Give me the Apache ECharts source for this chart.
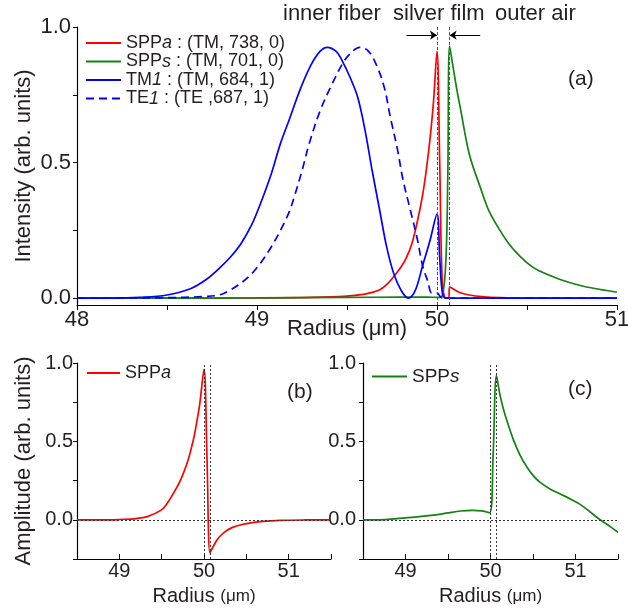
<!DOCTYPE html>
<html>
<head>
<meta charset="utf-8">
<title>SPP modes</title>
<script src="https://cdn.jsdelivr.net/npm/echarts@6.0.0/dist/echarts.min.js"></script>
<style>
  html, body { margin: 0; padding: 0; background: #fff; }
  #main { width: 628px; height: 610px; }
</style>
</head>
<body>
<div id="main"></div>
<script>
//(a) 强度, 半径 um
var sppaR = [48.0, 48.5, 49.0, 49.3, 49.5, 49.6, 49.68, 49.72, 49.76, 49.8, 49.83, 49.86, 49.89, 49.92, 49.94, 49.96, 49.98, 50.0, 50.015, 50.03, 50.05, 50.065, 50.07, 50.1, 50.13, 50.18, 50.25, 50.35, 50.5, 51.0];
var sppaI = [0, 0, 0.001, 0.003, 0.008, 0.015, 0.03, 0.05, 0.08, 0.115, 0.15, 0.2, 0.28, 0.38, 0.47, 0.58, 0.72, 0.91, 0.5, 0.05, 0, 0, 0.042, 0.03, 0.02, 0.012, 0.006, 0.002, 0, 0];

var sppsR = [48.0, 49.0, 49.5, 49.8, 49.95, 50.0, 50.03, 50.05, 50.06, 50.07, 50.09, 50.11, 50.13, 50.18, 50.24, 50.29, 50.35, 50.4, 50.46, 50.52, 50.57, 50.68, 50.79, 50.9, 51.0];
var sppsI = [0, 0.001, 0.003, 0.004, 0.004, 0.003, 0.01, 0.15, 0.45, 0.93, 0.85, 0.77, 0.70, 0.53, 0.41, 0.32, 0.25, 0.2, 0.155, 0.12, 0.10, 0.07, 0.048, 0.033, 0.022];

var tm1R = [48.0, 48.2, 48.35, 48.5, 48.63, 48.72, 48.79, 48.85, 48.91, 48.97, 49.02, 49.08, 49.13, 49.18, 49.24, 49.3, 49.35, 49.39, 49.44, 49.47, 49.52, 49.56, 49.6, 49.64, 49.68, 49.72, 49.76, 49.8, 49.84, 49.88, 49.92, 49.96, 50.0, 50.015, 50.03, 50.05, 51.0];
var tm1I = [0, 0, 0.003, 0.012, 0.035, 0.07, 0.11, 0.15, 0.20, 0.27, 0.35, 0.46, 0.57, 0.66, 0.77, 0.86, 0.91, 0.925, 0.91, 0.88, 0.81, 0.74, 0.62, 0.47, 0.33, 0.19, 0.09, 0.03, 0, 0.03, 0.12, 0.21, 0.31, 0.15, 0.02, 0, 0];

var te1R = [48.0, 48.5, 48.7, 48.79, 48.85, 48.91, 48.97, 49.02, 49.08, 49.13, 49.18, 49.21, 49.25, 49.29, 49.35, 49.41, 49.48, 49.53, 49.57, 49.62, 49.67, 49.71, 49.74, 49.78, 49.81, 49.85, 49.89, 49.92, 49.95, 49.97, 50.0, 50.02, 50.04, 51.0];
var te1I = [0, 0.002, 0.006, 0.012, 0.03, 0.055, 0.09, 0.13, 0.19, 0.25, 0.32, 0.38, 0.47, 0.57, 0.69, 0.78, 0.87, 0.91, 0.925, 0.91, 0.85, 0.77, 0.67, 0.55, 0.44, 0.33, 0.22, 0.12, 0.06, 0.02, 0.02, 0.005, 0, 0];

//(b)(c) 振幅
var ampaR = [48.5, 48.9, 49.0, 49.2, 49.33, 49.49, 49.56, 49.64, 49.72, 49.8, 49.87, 49.91, 49.95, 50.0, 50.035, 50.07, 50.1, 50.14, 50.18, 50.25, 50.33, 50.45, 50.57, 50.7, 50.9, 51.2, 51.5];
var ampaA = [0, 0, 0.002, 0.008, 0.02, 0.06, 0.1, 0.17, 0.25, 0.36, 0.5, 0.61, 0.74, 0.96, 0.4, -0.21, -0.18, -0.14, -0.11, -0.075, -0.05, -0.03, -0.018, -0.01, -0.004, -0.001, 0];

var ampsR = [48.5, 48.7, 48.9, 49.08, 49.3, 49.48, 49.65, 49.79, 49.9, 49.99, 50.03, 50.07, 50.11, 50.15, 50.2, 50.27, 50.35, 50.43, 50.5, 50.58, 50.7, 50.82, 50.95, 51.05, 51.15, 51.29, 51.4, 51.5];
var ampsA = [0, 0, 0.008, 0.015, 0.028, 0.042, 0.056, 0.06, 0.057, 0.045, 0.4, 0.92, 0.8, 0.71, 0.62, 0.51, 0.41, 0.335, 0.283, 0.24, 0.197, 0.165, 0.13, 0.10, 0.06, 0, -0.04, -0.08];

//图例名称
var topNames = ['SPPa : (TM, 738, 0)', 'SPPs : (TM, 701, 0)', 'TM1 : (TM, 684, 1)', 'TE1 : (TE ,687, 1)'];
var regionLabels = ['inner fiber', 'silver film', 'outer air'];
var panelLabels = ['(a)', '(b)', '(c)'];

//银膜边界和箭头
var filmEdges = [50.0, 50.07];
var arrowLeft = [49.83, 50.0];
var arrowRight = [50.24, 50.07];
var arrowLevel = 0.97;

//刻度
var topXLabels = [48, 49, 50, 51];
var topXTicks = [48, 48.5, 49, 49.5, 50, 50.5, 51];
var topYLabels = [0, 0.5, 1];
var topYTicks = [0, 0.25, 0.5, 0.75, 1];
var botXLabels = [49, 50, 51];
var botXTicks = [48.5, 49, 49.5, 50, 50.5, 51, 51.5];
var botYLabels = [0, 0.5, 1];
var botYTicks = [-0.25, 0, 0.25, 0.5, 0.75, 1];

var FONT = '"Liberation Sans", Arial, sans-serif';
var INK = '#231f20';
var RED = '#ff0000', GREEN = '#128212', BLUE = '#0000ff';

function pairs(xs, ys) {
	var out = [];
	for (var i = 0; i < xs.length; i++) {
		out.push([xs[i], ys[i]]);
	}
	return out;
}

//图例里最后一个字母斜体
function italicTail(name) {
	var head = name.split(' : ')[0];
	var rest = name.slice(head.length);
	var s = '{n|' + head.slice(0, -1) + '}{i|' + head.slice(-1) + '}';
	if (rest) s += '{n|' + rest + '}';
	return s;
}

function legendRich(size) {
	return {
		n: { fontSize: size, fontFamily: FONT, color: INK, lineHeight: 22 },
		i: { fontSize: size, fontFamily: FONT, color: INK, fontStyle: 'italic', lineHeight: 22 }
	};
}

function xAxisOf(grid, min, max, labels, ticks, inside, size, margin, nameSize, unitSize, gap) {
	return {
		type: 'value', gridIndex: grid, min: min, max: max,
		axisLine: { onZero: false, lineStyle: { color: '#000', width: 1.2 } },
		axisTick: { customValues: ticks, inside: inside, length: 5, lineStyle: { color: '#000' } },
		axisLabel: { customValues: labels, fontSize: size, fontFamily: FONT, color: INK, margin: margin,
			formatter: function (v) { return String(v); } },
		splitLine: { show: false },
		name: '{a|Radius }{b|(μm)}', nameLocation: 'middle', nameGap: gap, nameMoveOverlap: false,
		nameTextStyle: { rich: {
			a: { fontSize: nameSize, fontFamily: FONT, color: INK },
			b: { fontSize: unitSize, fontFamily: FONT, color: INK }
		} }
	};
}

function yAxisOf(grid, min, max, labels, ticks, size, margin, name, gap) {
	return {
		type: 'value', gridIndex: grid, min: min, max: max,
		axisLine: { show: true, onZero: false, lineStyle: { color: '#000', width: 1.2 } },
		axisTick: { show: true, customValues: ticks, length: 4, lineStyle: { color: '#000' } },
		axisLabel: { customValues: labels, fontSize: size, fontFamily: FONT, color: INK, margin: margin,
			formatter: function (v) { return v.toFixed(1); } },
		splitLine: { show: false },
		name: name, nameLocation: 'middle', nameGap: gap, nameRotate: 90, nameMoveOverlap: false,
		nameTextStyle: { fontSize: 22, fontFamily: FONT, color: INK }
	};
}

function curve(name, xs, ys, color, grid, dashed) {
	return {
		name: name, type: 'line', xAxisIndex: grid, yAxisIndex: grid,
		data: pairs(xs, ys), symbol: 'none', showSymbol: false,
		smooth: 0.35,
		lineStyle: { color: color, width: 1.7, type: dashed ? [8, 5] : 'solid' },
		itemStyle: { color: color }
	};
}

var dotted = { color: '#333', width: 1, type: [2, 2] };
//图例只画线, 不画圆点
var legendItem = { opacity: 0 };

var myChart = echarts.init(document.getElementById('main'));

var seriesList = [
	curve(topNames[0], sppaR, sppaI, RED, 0),
	curve(topNames[1], sppsR, sppsI, GREEN, 0),
	curve(topNames[2], tm1R, tm1I, BLUE, 0),
	curve(topNames[3], te1R, te1I, BLUE, 0, true),
	curve('SPPa', ampaR, ampaA, RED, 1),
	curve('SPPs', ampsR, ampsA, GREEN, 2)
];

//(a) 银膜虚线 + 箭头
seriesList[0].markLine = {
	silent: true, symbol: 'none', label: { show: false },
	lineStyle: { color: '#555', width: 1, type: [3, 2] },
	data: [
		{ xAxis: filmEdges[0] }, { xAxis: filmEdges[1] },
		[{ coord: [arrowLeft[0], arrowLevel], symbol: 'none', lineStyle: { color: '#000', type: 'solid' } },
		 { coord: [arrowLeft[1], arrowLevel], symbol: 'arrow', symbolSize: 7 }],
		[{ coord: [arrowRight[0], arrowLevel], symbol: 'none', lineStyle: { color: '#000', type: 'solid' } },
		 { coord: [arrowRight[1], arrowLevel], symbol: 'arrow', symbolSize: 7 }]
	]
};
//(b)(c) 虚线
seriesList[4].markLine = {
	silent: true, symbol: 'none', label: { show: false }, lineStyle: dotted,
	data: [{ xAxis: filmEdges[0] }, { xAxis: filmEdges[1] }, { yAxis: 0 }]
};
seriesList[5].markLine = {
	silent: true, symbol: 'none', label: { show: false }, lineStyle: dotted,
	data: [{ xAxis: filmEdges[0] }, { xAxis: filmEdges[1] }, { yAxis: 0 }]
};

var option = {
	animation: false,
	backgroundColor: '#fff',
	grid: [
		{ left: 77, top: 27, width: 540, height: 278, containLabel: false, outerBoundsMode: 'none' },
		{ left: 77, top: 363, width: 254, height: 196, containLabel: false, outerBoundsMode: 'none' },
		{ left: 363, top: 363, width: 255, height: 196, containLabel: false, outerBoundsMode: 'none' }
	],
	xAxis: [
		xAxisOf(0, 48, 51, topXLabels, topXTicks, false, 22, 4, 22, 22, 13),
		xAxisOf(1, 48.5, 51.5, botXLabels, botXTicks, true, 20, 2, 20, 17, 27),
		xAxisOf(2, 48.5, 51.5, botXLabels, botXTicks, true, 20, 2, 20, 17, 27)
	],
	yAxis: [
		yAxisOf(0, -0.025, 1, topYLabels, topYTicks, 22, 6, 'Intensity (arb. units)', 42),
		yAxisOf(1, -0.25, 1, botYLabels, botYTicks, 20, 4, 'Amplitude (arb. units)', 42),
		yAxisOf(2, -0.25, 1, botYLabels, botYTicks, 20, 7, '', 40)
	],
	legend: [
		{ data: topNames, orient: 'vertical', left: 85, top: 34, padding: 0, itemWidth: 35, itemHeight: 12, itemGap: 0.5,
			itemStyle: legendItem, formatter: italicTail, textStyle: { rich: legendRich(18) } },
		{ data: ['SPPa'], left: 86, top: 364, padding: 0, itemWidth: 33, itemHeight: 12,
			itemStyle: legendItem, formatter: italicTail, textStyle: { rich: legendRich(18) } },
		{ data: ['SPPs'], left: 371, top: 367, padding: 0, itemWidth: 35, itemHeight: 12,
			itemStyle: legendItem, formatter: italicTail, textStyle: { rich: legendRich(19) } }
	],
	graphic: [
		{ type: 'text', left: 283, top: 3, style: { text: regionLabels[0], font: '22px ' + FONT, fill: INK } },
		{ type: 'text', left: 393, top: 3, style: { text: regionLabels[1], font: '22px ' + FONT, fill: INK } },
		{ type: 'text', left: 495, top: 3, style: { text: regionLabels[2], font: '22px ' + FONT, fill: INK } },
		{ type: 'text', left: 568, top: 69, style: { text: panelLabels[0], font: '21px ' + FONT, fill: INK } },
		{ type: 'text', left: 287, top: 382, style: { text: panelLabels[1], font: '21px ' + FONT, fill: INK } },
		{ type: 'text', left: 568, top: 379, style: { text: panelLabels[2], font: '21px ' + FONT, fill: INK } }
	],
	series: seriesList
};

myChart.setOption(option);
</script>
</body>
</html>
